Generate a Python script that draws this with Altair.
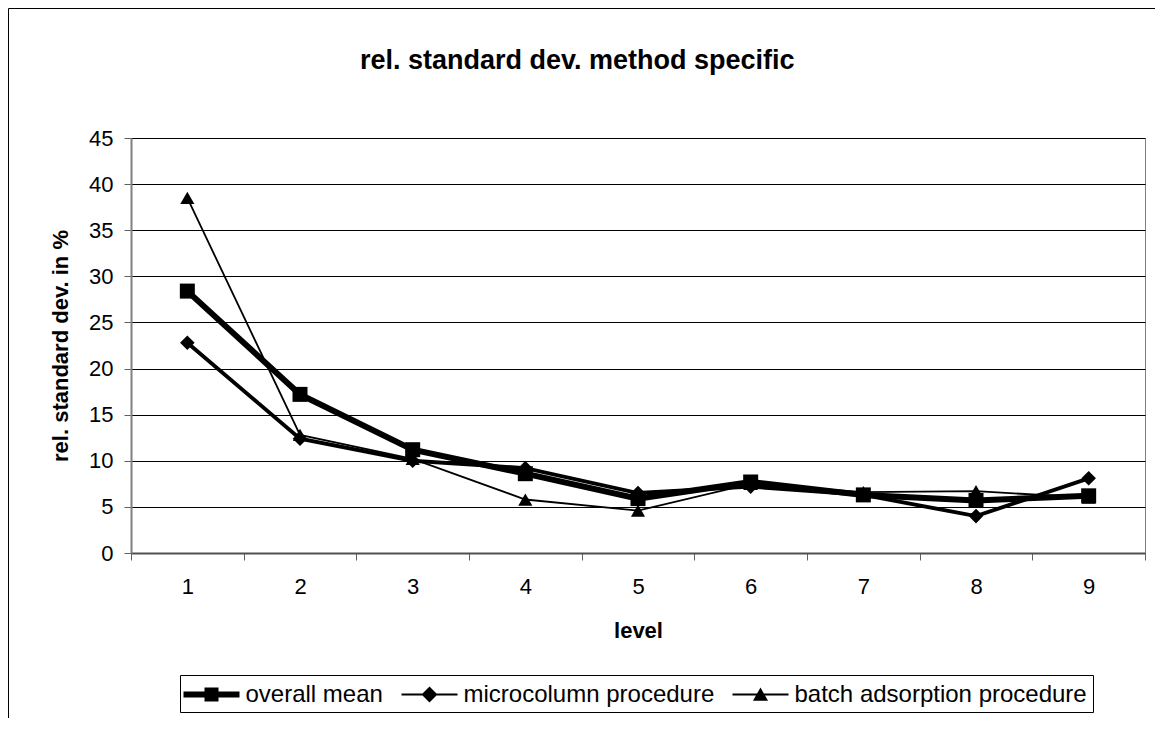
import altair as alt
import pandas as pd

levels = ["1", "2", "3", "4", "5", "6", "7", "8", "9"]
overall_mean = [28.4, 17.2, 11.2, 8.6, 5.9, 7.7, 6.3, 5.7, 6.2]
microcolumn = [22.8, 12.4, 10.0, 9.2, 6.5, 7.2, 6.3, 4.0, 8.1]
batch_adsorption = [38.5, 12.8, 10.2, 5.8, 4.6, 7.5, 6.6, 6.7, 6.0]
series_names = ["overall mean", "microcolumn procedure", "batch adsorption procedure"]
y_ticks = [0, 5, 10, 15, 20, 25, 30, 35, 40, 45]

rows = []
for name, vals in zip(series_names, [overall_mean, microcolumn, batch_adsorption]):
    for lv, v in zip(levels, vals):
        rows.append({"level": lv, "value": v, "series": name})
df = pd.DataFrame(rows)

FONT = "Liberation Sans"

x_enc = alt.X(
    "level:O",
    sort=levels,
    scale=alt.Scale(type="band", paddingInner=0, paddingOuter=0),
    axis=alt.Axis(
        title="level", labelAngle=0, tickBand="extent", tickSize=7,
        labelPadding=16, labelFontSize=22, labelFont=FONT, labelColor="black",
        titleFontSize=22, titleFont=FONT, titleFontWeight="bold", titleColor="black",
        titlePadding=23, domainColor="#505050", domainWidth=2, tickColor="#606060",
        grid=False,
    ),
)
y_enc = alt.Y(
    "value:Q",
    scale=alt.Scale(domain=[0, 45], nice=False),
    axis=alt.Axis(
        values=y_ticks, title="rel. standard dev. in %", tickSize=7,
        labelPadding=11, labelFontSize=22, labelFont=FONT, labelColor="black",
        titleFontSize=22, titleFont=FONT, titleFontWeight="bold", titleColor="black",
        titlePadding=16, domainColor="#808080", domainWidth=2, tickColor="#606060",
        grid=True, gridColor="black", gridWidth=1,
    ),
)

base = alt.Chart(df)

lines = base.mark_line(color="black").encode(
    x=x_enc, y=y_enc,
    detail="series:N",
    strokeWidth=alt.StrokeWidth(
        "series:N", scale=alt.Scale(domain=series_names, range=[6, 1.8, 1.8]), legend=None
    ),
    order=alt.Order("level:O"),
)

points = base.mark_point(filled=True, color="black", opacity=1).encode(
    x=x_enc, y=y_enc,
    shape=alt.Shape(
        "series:N",
        scale=alt.Scale(domain=series_names, range=["square", "diamond", "triangle-up"]),
        legend=None,
    ),
    size=alt.Size(
        "series:N", scale=alt.Scale(domain=series_names, range=[225, 200, 225]), legend=None
    ),
)

legend_paths = [
    "M-2,-0.21H2V0.21H-2ZM-0.5,-0.5H0.5V0.5H-0.5Z",
    "M-2,-0.07H2V0.07H-2ZM0,-0.57L0.57,0L0,0.57L-0.57,0Z",
    "M-2,-0.07H2V0.07H-2ZM0,-0.5L0.54,0.45H-0.54Z",
]

legend_layer = base.mark_point(filled=True, color="black", opacity=0).encode(
    x=x_enc, y=y_enc,
    shape=alt.Shape(
        "series:N",
        scale=alt.Scale(domain=series_names, range=legend_paths),
        legend=alt.Legend(
            title=None, orient="none", legendX=49, legendY=537, direction="horizontal",
            symbolSize=784, symbolOffset=12, labelOffset=20, columnPadding=18,
            padding=5.5, strokeColor="black",
            symbolFillColor="black", symbolStrokeColor="black", symbolStrokeWidth=0,
            symbolOpacity=1, labelFontSize=24, labelFont=FONT, labelColor="black",
            labelLimit=500, labelBaseline="middle",
        ),
    ),
)

frame_df = pd.DataFrame({"k": [0]})
frame_left = alt.Chart(frame_df).mark_rule(color="black", strokeWidth=1).encode(
    x=alt.value(-122.5), y=alt.value(-129.5), y2=alt.value(580)
)
frame_top = alt.Chart(frame_df).mark_rule(color="black", strokeWidth=1).encode(
    x=alt.value(-122.5), x2=alt.value(1024), y=alt.value(-129.5)
)

chart = (
    alt.layer(lines, points, legend_layer, frame_left, frame_top)
    .resolve_scale(shape="independent", size="independent", strokeWidth="independent")
    .properties(
        width=1014,
        height=415,
        autosize=alt.AutoSizeParams(type="none"),
        padding={"left": 123, "top": 130, "right": 10, "bottom": 165},
        title=alt.TitleParams(
            text="rel. standard dev. method specific", fontSize=27, font=FONT,
            fontWeight="bold", color="black", anchor="start", frame="group",
            dx=229, offset=-88, baseline="alphabetic",
        ),
        background="white",
    )
    .configure_view(stroke="#808080", strokeWidth=1)
)

chart.save("out.html", embed_options={"renderer": "svg", "actions": False})
